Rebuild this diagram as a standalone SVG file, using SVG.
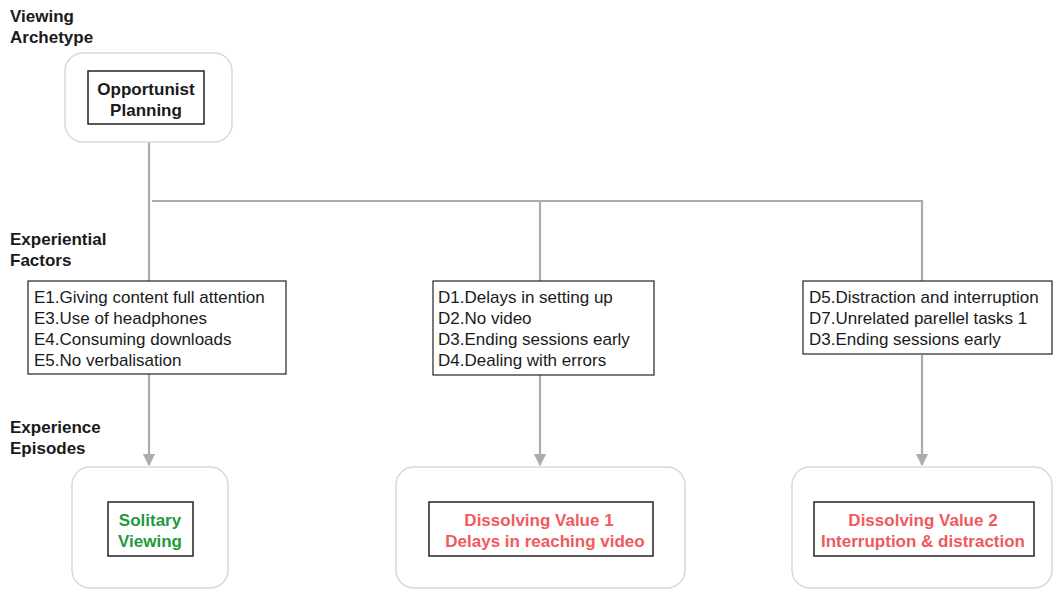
<svg xmlns="http://www.w3.org/2000/svg" width="1053" height="590" viewBox="0 0 1053 590">
  <style>
    .bg { fill: #ffffff; }
    .outer { fill: #ffffff; stroke: #d9d9d9; stroke-width: 1.5; }
    .inner { fill: #ffffff; stroke: #222222; stroke-width: 1.5; }
    .list { fill: #ffffff; stroke: #222222; stroke-width: 1.2; }
    .head { font-family: "Liberation Sans", Arial, sans-serif; font-size: 17px; font-weight: bold; fill: #1a1a1a; }
    .item { font-family: "Liberation Sans", Arial, sans-serif; font-size: 17px; fill: #1a1a1a; }
    .green { font-family: "Liberation Sans", Arial, sans-serif; font-size: 17px; font-weight: bold; fill: #1f9a3c; }
    .red { font-family: "Liberation Sans", Arial, sans-serif; font-size: 17px; font-weight: bold; fill: #f05a5c; }
    .wire { fill: none; stroke: #acacac; stroke-width: 2.2; }
  </style>
  <defs>
    <marker id="arrow" viewBox="0 0 10 10" refX="9" refY="5" markerWidth="5.5" markerHeight="5.5" orient="auto" markerUnits="strokeWidth">
      <path d="M0,0 L10,5 L0,10 z" fill="#acacac"/>
    </marker>
  </defs>
  <rect class="bg" x="0" y="0" width="1053" height="590"/>

  <!-- level labels -->
  <g id="labels">
    <text class="head" x="10" y="22">Viewing</text>
    <text class="head" x="10" y="43">Archetype</text>
    <text class="head" x="10" y="245">Experiential</text>
    <text class="head" x="10" y="266">Factors</text>
    <text class="head" x="10" y="433">Experience</text>
    <text class="head" x="10" y="454">Episodes</text>
  </g>

  <!-- connectors -->
  <g id="connectors">
    <line class="wire" x1="149" y1="142" x2="149" y2="281"/>
    <line class="wire" x1="152" y1="201" x2="923" y2="201"/>
    <line class="wire" x1="540" y1="201" x2="540" y2="281"/>
    <line class="wire" x1="922" y1="201" x2="922" y2="281"/>
    <line class="wire" x1="149" y1="374" x2="149" y2="465" marker-end="url(#arrow)"/>
    <line class="wire" x1="540" y1="375" x2="540" y2="465" marker-end="url(#arrow)"/>
    <line class="wire" x1="922" y1="355" x2="922" y2="465" marker-end="url(#arrow)"/>
  </g>

  <!-- archetype -->
  <g id="archetype">
    <rect class="outer" x="65" y="53" width="167" height="89" rx="18"/>
    <rect class="inner" x="88" y="71" width="116" height="53"/>
    <text class="head" x="146" y="95" text-anchor="middle">Opportunist</text>
    <text class="head" x="146" y="116" text-anchor="middle">Planning</text>
  </g>

  <!-- experiential factors -->
  <g id="factors-e">
    <rect class="list" x="28" y="281" width="258" height="93"/>
    <text class="item" x="34" y="303">E1.Giving content full attention</text>
    <text class="item" x="34" y="324">E3.Use of headphones</text>
    <text class="item" x="34" y="345">E4.Consuming downloads</text>
    <text class="item" x="34" y="366">E5.No verbalisation</text>
  </g>
  <g id="factors-d1">
    <rect class="list" x="433" y="281" width="221" height="94"/>
    <text class="item" x="438" y="303">D1.Delays in setting up</text>
    <text class="item" x="438" y="324">D2.No video</text>
    <text class="item" x="438" y="345">D3.Ending sessions early</text>
    <text class="item" x="438" y="366">D4.Dealing with errors</text>
  </g>
  <g id="factors-d5">
    <rect class="list" x="803" y="281" width="249" height="73"/>
    <text class="item" x="809" y="303">D5.Distraction and interruption</text>
    <text class="item" x="809" y="324">D7.Unrelated parellel tasks 1</text>
    <text class="item" x="809" y="345">D3.Ending sessions early</text>
  </g>

  <!-- experience episodes -->
  <g id="episode-solitary">
    <rect class="outer" x="72" y="467" width="156" height="121" rx="18"/>
    <rect class="inner" x="108" y="502" width="85" height="54"/>
    <text class="green" x="150" y="526" text-anchor="middle">Solitary</text>
    <text class="green" x="150" y="547" text-anchor="middle">Viewing</text>
  </g>
  <g id="episode-dv1">
    <rect class="outer" x="396" y="467" width="289" height="121" rx="18"/>
    <rect class="inner" x="429" y="502" width="224" height="54"/>
    <text class="red" x="539" y="526" text-anchor="middle">Dissolving Value 1</text>
    <text class="red" x="545" y="547" text-anchor="middle">Delays in reaching video</text>
  </g>
  <g id="episode-dv2">
    <rect class="outer" x="792" y="467" width="260" height="121" rx="18"/>
    <rect class="inner" x="814" y="502" width="220" height="54"/>
    <text class="red" x="923" y="526" text-anchor="middle">Dissolving Value 2</text>
    <text class="red" x="923" y="547" text-anchor="middle">Interruption &amp; distraction</text>
  </g>
</svg>
